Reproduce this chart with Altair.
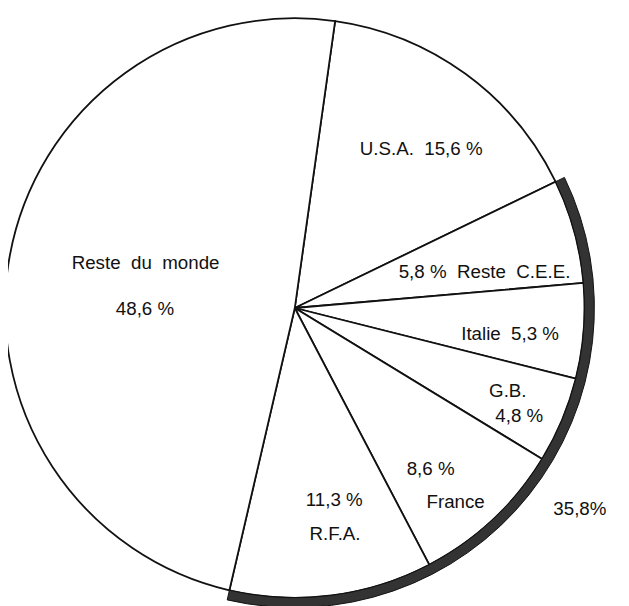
import math
import altair as alt
import pandas as pd

# ---- data ----
labels = ["U.S.A.", "Reste C.E.E.", "Italie", "G.B.", "France", "R.F.A.", "Reste du monde"]
values = [15.6, 5.8, 5.3, 4.8, 8.6, 11.3, 48.6]
cee_members = ["Reste C.E.E.", "Italie", "G.B.", "France", "R.F.A."]
cee_total_text = "35,8%"

SP = "\u00a0\u00a0"  # wide word spacing as in the original typesetting
label_lines = ["U.S.A." + SP + "15,6 %", "5,8 %" + SP + "Reste" + SP + "C.E.E.",
               "Italie" + SP + "5,3 %", "G.B.", "4,8 %", "8,6 %", "France",
               "11,3 %", "R.F.A.", "Reste" + SP + "du" + SP + "monde", "48,6 %",
               cee_total_text]

# ---- layout / style (not data) ----
START_DEG = 8.0
R = 294
# label anchor per line: (angle in degrees clockwise from north, radius in px)
LABEL_LAYOUT = [
    (38.5, 206), (79.2, 196), (96.8, 220), (111.3, 232), (115.8, 253),
    (139.9, 214), (140.4, 256), (168.4, 199), (169.9, 233),
    (286.6, 158), (269.6, 152), (125.2, 354),
]

t0 = math.radians(START_DEG)
theta_scale = alt.Scale(domain=[0, 100], range=[t0, t0 + 2 * math.pi])

df = pd.DataFrame({"label": labels, "value": values, "idx": list(range(len(labels)))})

first = labels.index(cee_members[0])
cee_start = sum(values[:first])
cee_end = cee_start + sum(values[labels.index(m)] for m in cee_members)
band_df = pd.DataFrame({"s": [cee_start], "e": [cee_end]})

lab_df = pd.DataFrame({
    "t": label_lines,
    "th": [math.radians(a) for a, _ in LABEL_LAYOUT],
    "r": [r for _, r in LABEL_LAYOUT],
})

pie = alt.Chart(df).mark_arc(radius=R, fill="white", stroke="#111", strokeWidth=1.8).encode(
    theta=alt.Theta("value:Q", stack=True, scale=theta_scale),
    order=alt.Order("idx:Q"),
)

band = alt.Chart(band_df).mark_arc(radius=R + 10, radius2=R, fill="#333333",
                                   stroke="#111", strokeWidth=1).encode(
    theta=alt.Theta("s:Q", scale=theta_scale),
    theta2="e:Q",
)

text = alt.Chart(lab_df).mark_text(font="Liberation Sans", fontSize=19, color="#111",
                                   align="center", baseline="middle").encode(
    theta=alt.Theta("th:Q", scale=None),
    radius=alt.Radius("r:Q", scale=None),
    text="t:N",
)

chart = alt.layer(pie, band, text).resolve_scale(
    theta="independent", radius="independent"
).properties(
    width=582, height=600, autosize="none",
    padding={"left": 0, "top": 0, "right": 40, "bottom": 0},
    background="white",
).configure_view(strokeWidth=0)

chart.save("out.html", embed_options={"renderer": "svg", "actions": False})
